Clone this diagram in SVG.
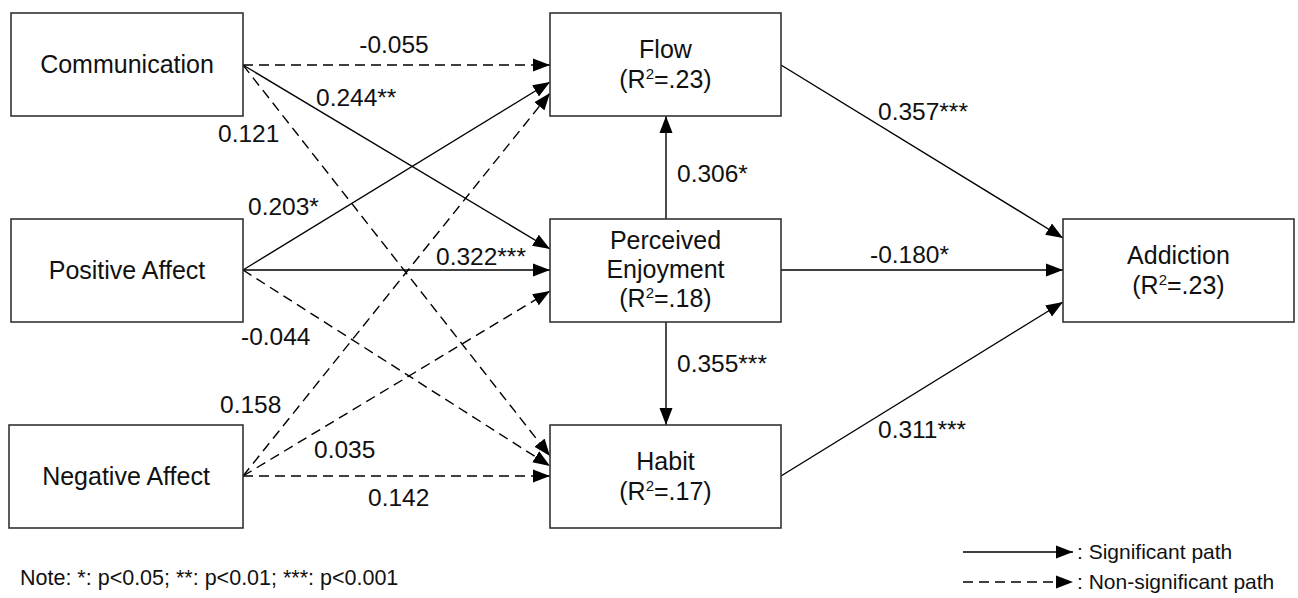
<svg xmlns="http://www.w3.org/2000/svg" width="1298" height="598" viewBox="0 0 1298 598">
<defs>
<marker id="ah" markerUnits="userSpaceOnUse" markerWidth="18" markerHeight="14" refX="17" refY="7" orient="auto" viewBox="0 0 18 14">
<path d="M0,0.5 L17,7 L0,13.5 z" fill="#000"/>
</marker>
<style>
.box{fill:#fff;stroke:#333;stroke-width:1.6}
.t{font-family:"Liberation Sans",Arial,sans-serif;font-size:25px;fill:#111;text-anchor:middle}
.el{font-family:"Liberation Sans",Arial,sans-serif;font-size:24.5px;fill:#111}
.s{stroke:#000;stroke-width:1.4;fill:none;marker-end:url(#ah)}
.d{stroke:#000;stroke-width:1.4;fill:none;stroke-dasharray:10 6;marker-end:url(#ah)}
.sup{font-size:15px}
.note{font-family:"Liberation Sans",Arial,sans-serif;font-size:21.5px;fill:#111}
.leg{font-family:"Liberation Sans",Arial,sans-serif;font-size:21px;fill:#111}
</style>
</defs>
<rect width="1298" height="598" fill="#fff"/>

<g id="connectors">
<line class="d" x1="243" y1="65" x2="550" y2="65"/>
<line class="s" x1="243" y1="65" x2="550" y2="249"/>
<line class="d" x1="243" y1="65" x2="550" y2="456"/>
<line class="s" x1="243" y1="270" x2="550" y2="82"/>
<line class="s" x1="243" y1="270" x2="550" y2="270"/>
<line class="d" x1="243" y1="270" x2="550" y2="466"/>
<line class="d" x1="243" y1="476" x2="550" y2="93"/>
<line class="d" x1="243" y1="476" x2="550" y2="291"/>
<line class="d" x1="243" y1="476" x2="550" y2="476"/>
<line class="s" x1="666" y1="219" x2="666" y2="116"/>
<line class="s" x1="666" y1="322" x2="666" y2="425"/>
<line class="s" x1="781" y1="65" x2="1063" y2="238"/>
<line class="s" x1="781" y1="270" x2="1063" y2="270"/>
<line class="s" x1="781" y1="476" x2="1063" y2="302"/>
</g>

<g id="edge-labels">
<text class="el" x="394" y="53" text-anchor="middle">-0.055</text>
<text class="el" x="316" y="106">0.244**</text>
<text class="el" x="218" y="142">0.121</text>
<text class="el" x="248" y="215">0.203*</text>
<text class="el" x="436" y="265">0.322***</text>
<text class="el" x="241" y="345">-0.044</text>
<text class="el" x="220" y="413">0.158</text>
<text class="el" x="314" y="458">0.035</text>
<text class="el" x="368" y="506">0.142</text>
<text class="el" x="677" y="182">0.306*</text>
<text class="el" x="677" y="372">0.355***</text>
<text class="el" x="870" y="263">-0.180*</text>
<text class="el" x="878" y="120">0.357***</text>
<text class="el" x="878" y="438">0.311***</text>
</g>

<g id="communication">
<rect class="box" x="11" y="13" width="232" height="103"/>
<text class="t" x="127" y="73">Communication</text>
</g>
<g id="positive-affect">
<rect class="box" x="11" y="219" width="232" height="103"/>
<text class="t" x="127" y="279">Positive Affect</text>
</g>
<g id="negative-affect">
<rect class="box" x="9" y="425" width="234" height="103"/>
<text class="t" x="126" y="485">Negative Affect</text>
</g>
<g id="flow">
<rect class="box" x="550" y="13" width="231" height="103"/>
<text class="t" x="665.5" y="58">Flow</text>
<text class="t" x="665.5" y="88">(R<tspan class="sup" dy="-9">2</tspan><tspan dy="9">=.23)</tspan></text>
</g>
<g id="perceived-enjoyment">
<rect class="box" x="550" y="219" width="231" height="103"/>
<text class="t" x="665.5" y="249">Perceived</text>
<text class="t" x="665.5" y="278">Enjoyment</text>
<text class="t" x="665.5" y="307">(R<tspan class="sup" dy="-9">2</tspan><tspan dy="9">=.18)</tspan></text>
</g>
<g id="habit">
<rect class="box" x="550" y="425" width="231" height="103"/>
<text class="t" x="665.5" y="470">Habit</text>
<text class="t" x="665.5" y="500">(R<tspan class="sup" dy="-9">2</tspan><tspan dy="9">=.17)</tspan></text>
</g>
<g id="addiction">
<rect class="box" x="1063" y="219" width="231" height="103"/>
<text class="t" x="1178.5" y="264">Addiction</text>
<text class="t" x="1178.5" y="294">(R<tspan class="sup" dy="-9">2</tspan><tspan dy="9">=.23)</tspan></text>
</g>

<g id="note">
<text class="note" x="20" y="585">Note: *: p&lt;0.05; **: p&lt;0.01; ***: p&lt;0.001</text>
</g>
<g id="legend">
<line class="s" x1="963" y1="552" x2="1073" y2="552"/>
<text class="leg" x="1077" y="559">: Significant path</text>
<line class="d" x1="963" y1="582" x2="1073" y2="582" stroke-dasharray="9 6"/>
<text class="leg" x="1077" y="589">: Non-significant path</text>
</g>
</svg>
